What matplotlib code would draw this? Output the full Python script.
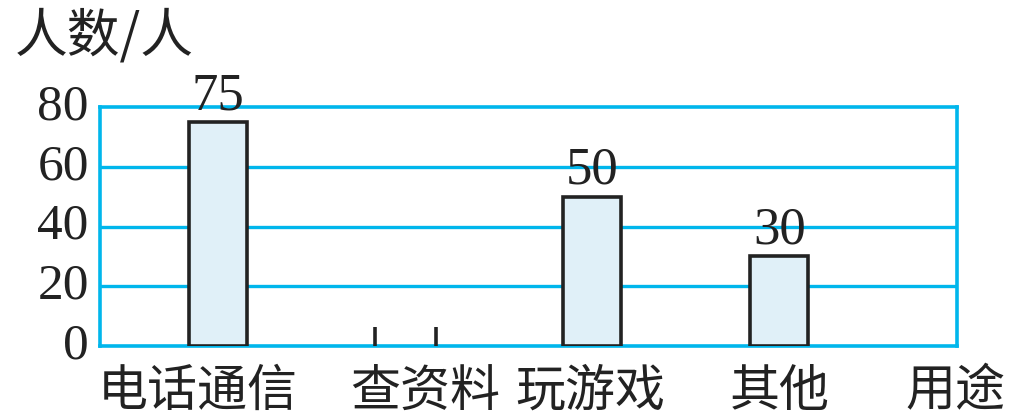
import matplotlib.pyplot as plt
import matplotlib.transforms as mtransforms

plt.rcParams['font.family'] = ['Noto Sans CJK SC', 'DejaVu Sans']

# data
categories = ['电话通信', '查资料', '玩游戏', '其他']
counts = [75, None, 50, 30]   # 查资料 left blank in the original
yticks = [0, 20, 40, 60, 80]
ylabel = '人数/人'
xlabel = '用途'

cyan = '#00b6ec'
fill = '#e0f0f8'

fig = plt.figure(figsize=(10.15, 4.18), dpi=100)
ax = fig.add_axes([0.0985, 0.172, 0.8445, 0.572])

pos = list(range(len(categories)))
w = 0.31
for x, v in zip(pos, counts):
    if v is None:
        # only the two short edge marks of the empty bar
        ax.vlines([x - 0.163, x + 0.163], 0, 6.5, colors='#222222', lw=2.6, zorder=3)
        continue
    ax.bar(x, v, width=w, color=fill, edgecolor='#222222', linewidth=2.6, zorder=3)
    ax.text(x, v + 0.6, str(v), ha='center', va='bottom', fontsize=38,
            family='Liberation Serif', color='#222222')

ax.set_xlim(-0.63, 3.95)
ax.set_ylim(0, 80)
ax.set_yticks(yticks)
ax.set_yticklabels([str(t) for t in yticks], family='Liberation Serif', fontsize=37,
                   color='#222222')
ax.tick_params(axis='y', length=0, pad=8)
ax.set_xticks([])
for t in ax.get_yticklabels():
    t.set_verticalalignment('center')

for y in yticks[1:-1]:
    ax.axhline(y, color=cyan, lw=2.4, zorder=1)
for s in ax.spines.values():
    s.set_color(cyan)
    s.set_linewidth(2.6)

# category labels under the axis
trans = mtransforms.blended_transform_factory(ax.transData, ax.transAxes)
label_x = [-0.11, 1.11, 1.99, 3.0]
for x, lab in zip(label_x, categories):
    ax.text(x, -0.19, lab, transform=trans, ha='center', va='center',
            fontsize=36, color='#222222')
ax.text(3.94, -0.19, xlabel, transform=trans, ha='center', va='center',
        fontsize=36, color='#222222')

fig.text(0.103, 0.915, ylabel, ha='center', va='center', fontsize=38, color='#222222')

fig.savefig('out.png', dpi=100)
